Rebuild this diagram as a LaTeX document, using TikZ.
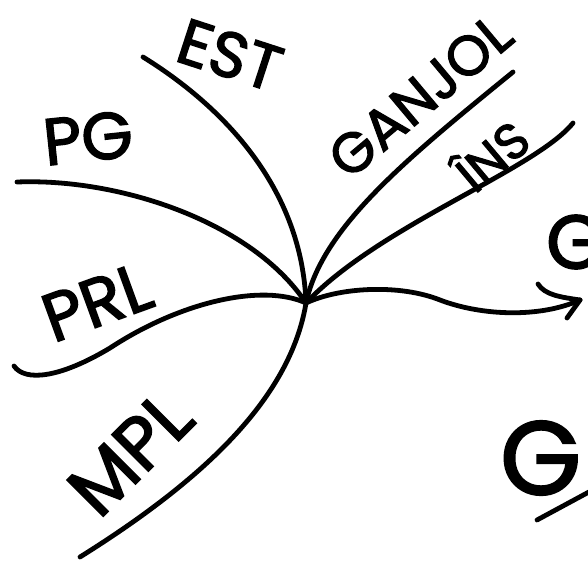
\documentclass[tikz,border=0pt]{standalone}
\usepackage{fontspec}
\setmainfont{Poppins}
\newfontfamily\handfont[FakeBold=2.2]{Poppins}
\begin{document}
\begin{tikzpicture}[x=1pt,y=-1pt,
  pen/.style={line width=4.8pt, line cap=round, line join=round},
  hand/.style={font=\fontsize{#1}{#1}\selectfont\handfont, inner sep=0pt}]
\useasboundingbox (0,0) rectangle (588,572);
\fill[white] (0,0) rectangle (588,572);
\begin{scope}
\clip (0,0) rectangle (588,572);

% meeting point of all branches
\coordinate (hub) at (306,303);

% free ends of the branches
\coordinate (estEnd) at (143,57);
\coordinate (pgEnd) at (17,182);
\coordinate (ganEnd) at (513,72);
\coordinate (insEnd) at (573,123);
\coordinate (prlEnd) at (14,366);
\coordinate (mplEnd) at (80,557);
\coordinate (tip) at (580,300);

% branches
\draw[pen] (estEnd) .. controls (232,112) and (302,195) .. (hub);
\draw[pen] (pgEnd) .. controls (120,178) and (252,222) .. (hub);
\draw[pen] (ganEnd) .. controls (405,160) and (322,228) .. (hub);
\draw[pen] (insEnd) .. controls (535,170) and (380,225) .. (hub);
\draw[pen] (prlEnd) .. controls (25,382) and (60,378) .. (110,348)
                    .. controls (180,302) and (262,283) .. (hub);
\draw[pen] (hub) .. controls (290,400) and (200,482) .. (mplEnd);

% outgoing arrow
\draw[pen] (hub) .. controls (340,287) and (400,284) .. (440,300)
                 .. controls (482,316) and (540,318) .. (tip);
\draw[pen] (538,284) .. controls (545,295) and (560,297) .. (tip);
\draw[pen] (tip) -- (567,318);

% labels
\node[hand=64, rotate=-18] (est) at (230,55) {EST};
\node[hand=66, rotate=6] (pg) at (88,138) {PG};
\node[hand=56, rotate=40] (gan) at (420,96) {GANJOL};
\node[hand=50, rotate=40] (ins) at (490,153) {ÎNS};
\node[hand=68, rotate=20] (prl) at (97,302) {PRL};
\node[hand=74, rotate=45] (mpl) at (130,453) {MPL};

% text running off the right edge
\node[hand=76, anchor=west] (g1) at (546,242) {G};
\node[hand=104, anchor=west] (g2) at (500,458) {G};
\coordinate (ulStart) at (537,520);
\coordinate (ulEnd) at (600,486);
\draw[pen] (ulStart) -- (ulEnd);
\end{scope}
\end{tikzpicture}
\end{document}
